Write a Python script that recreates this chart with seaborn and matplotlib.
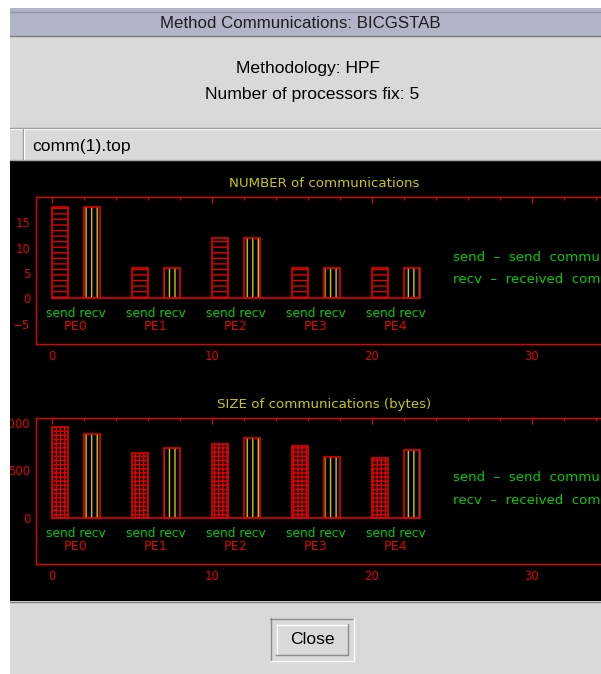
import numpy as np
import pandas as pd
import matplotlib
matplotlib.use("Agg")
import matplotlib.pyplot as plt
from matplotlib.patches import Rectangle
from matplotlib.lines import Line2D
from matplotlib.ticker import MultipleLocator
import seaborn as sns

# ---------------- data ----------------
window_title = "Method Communications: BICGSTAB"
methodology = "Methodology: HPF"
nproc_text = "Number of processors fix: 5"
tab_label = "comm(1).top"
close_label = "Close"
pe_labels = ["PE0", "PE1", "PE2", "PE3", "PE4"]
send_pos = [0.5, 5.5, 10.5, 15.5, 20.5]
recv_pos = [2.5, 7.5, 12.5, 17.5, 22.5]
num_send = [18, 6, 12, 6, 6]
num_recv = [18, 6, 12, 6, 6]
size_send = [958, 686, 774, 756, 631]
size_recv = [879, 732, 843, 641, 714]
xticks = [0, 10, 20, 30]
num_yticks = [-5, 0, 5, 10, 15]
size_yticks = [0, 500, 1000]
titles = ["NUMBER of communications", "SIZE of communications (bytes)"]
legend_lines = ["send  \u2013  send  communications",
                "recv  \u2013  received  communications"]
bar_label = "send recv"

# ---------------- style ----------------
sns.set_style("dark")
plt.rcParams["font.family"] = ["DejaVu Sans"]
plt.rcParams["hatch.linewidth"] = 1.0
plt.rcParams["axes.grid"] = False

RED = "#e00000"
GREEN = "#00cc00"
YEL = "#c8c800"
GUI = "Liberation Sans"

W, H = 601, 674
fig = plt.figure(figsize=(W / 100, H / 100), dpi=100)
fig.patch.set_facecolor("white")


def rect(x0, y0, x1, y1, color, z=-5):
    r = Rectangle((x0 / W, 1 - y1 / H), (x1 - x0) / W, (y1 - y0) / H,
                  transform=fig.transFigure, facecolor=color,
                  edgecolor="none", zorder=z)
    fig.add_artist(r)


def hline(x0, x1, y, color, lw=1.0, z=-4):
    fig.add_artist(Line2D([x0 / W, x1 / W], [1 - y / H, 1 - y / H],
                          transform=fig.transFigure, color=color, lw=lw,
                          zorder=z))


def vline(x, y0, y1, color, lw=1.0, z=-4):
    fig.add_artist(Line2D([x / W, x / W], [1 - y0 / H, 1 - y1 / H],
                          transform=fig.transFigure, color=color, lw=lw,
                          zorder=z))


def ftext(x, y, s, **kw):
    fig.text(x / W, 1 - y / H, s, **kw)


# window chrome
rect(10, 8, 601, 674, "#d9d9d9")
rect(10, 8, 601, 36, "#b1b5c7")
hline(10, 601, 12, "#8e92a4")
hline(10, 601, 36, "#7c7c80")
ftext(300, 24, window_title, ha="center", va="center", fontsize=12.2,
      family=GUI, color="#1e1e1e")
ftext(308, 69, methodology, ha="center", va="center", fontsize=12.6,
      family=GUI, color="#000000")
ftext(312, 95, nproc_text, ha="center", va="center", fontsize=12.6,
      family=GUI, color="#000000")
# tab strip
rect(10, 127, 601, 161, "#dadada")
hline(10, 601, 127.5, "#8a8a8a")
hline(10, 601, 128.8, "#f4f4f4")
vline(22.5, 129, 160, "#8a8a8a")
vline(23.8, 129, 160, "#ffffff")
hline(10, 601, 160, "#a8a8a8")
ftext(32, 147, tab_label, ha="left", va="center", fontsize=12.6,
      family=GUI, color="#000000")
# black drawing area
rect(10, 161, 601, 601, "#000000")
hline(10, 601, 601.5, "#7f7f7f")
# close button
rect(270, 618, 354, 661, "#d9d9d9")
hline(270, 354, 618.5, "#8c8c8c")
vline(270.5, 618, 661, "#8c8c8c")
hline(270, 354, 660.5, "#ffffff")
vline(353.5, 618, 661, "#ffffff")
hline(276, 348, 624.5, "#ffffff")
vline(276.5, 624, 655, "#ffffff")
hline(276, 348, 654.5, "#8a8a8a")
vline(347.5, 624, 655, "#8a8a8a")
ftext(312, 639.5, close_label, ha="center", va="center", fontsize=12.6,
      family=GUI, color="#000000")

# white screen margin covering anything clipped by the window
rect(0, 0, 10, H, "white", z=20)
rect(0, 0, W, 8, "white", z=20)


def panel(ax, send, recv, ylim, yticks, yminor, hatch_send, title):
    ax.set_facecolor("black")
    df_s = pd.DataFrame({"pos": send_pos, "val": send})
    df_r = pd.DataFrame({"pos": recv_pos, "val": recv})
    sns.barplot(data=df_s, x="pos", y="val", native_scale=True, width=0.2,
                orient="x", errorbar=None, color=RED, ax=ax)
    n0 = len(ax.patches)
    for p in ax.patches[:n0]:
        p.set_facecolor("none")
        p.set_edgecolor(RED)
        p.set_hatch(hatch_send)
        p.set_linewidth(1.2)
        p.set_zorder(2)
    sns.barplot(data=df_r, x="pos", y="val", native_scale=True, width=0.2,
                orient="x", errorbar=None, color=YEL, ax=ax)
    n1 = len(ax.patches)
    for p in ax.patches[n0:n1]:
        p.set_facecolor("none")
        p.set_edgecolor(YEL)
        p.set_hatch("|||")
        p.set_linewidth(0)
        p.set_zorder(2)
    sns.barplot(data=df_r, x="pos", y="val", native_scale=True, width=0.2,
                orient="x", errorbar=None, color=RED, ax=ax)
    for p in ax.patches[n1:]:
        p.set_facecolor("none")
        p.set_edgecolor(RED)
        p.set_linewidth(1.2)
        p.set_zorder(3)
    ax.plot([send_pos[0] - 0.5, recv_pos[-1] + 0.5], [0, 0], color=RED,
            lw=1.2, zorder=3)

    for i, pe in enumerate(pe_labels):
        xc = (send_pos[i] + recv_pos[i]) / 2
        ax.annotate(bar_label, xy=(xc, 0), xytext=(0, -10.6),
                    textcoords="offset points", ha="center", va="center",
                    color=GREEN, fontsize=8.8)
        ax.annotate(pe, xy=(xc, 0), xytext=(0, -20.4),
                    textcoords="offset points", ha="center", va="center",
                    color=RED, fontsize=9.2)
    for line, yf in zip(legend_lines, [0.59, 0.437]):
        ax.text(0.724, yf, line, transform=ax.transAxes, ha="left",
                va="center", color=GREEN, fontsize=9.6)

    ax.set_xlim(-1, 35)
    ax.set_ylim(*ylim)
    ax.set_xticks(xticks)
    ax.set_xticklabels([str(t) for t in xticks])
    ax.xaxis.set_minor_locator(MultipleLocator(2))
    ax.set_yticks(yticks)
    ax.set_yticklabels([str(t).replace("-", "\u2212") for t in yticks])
    ax.yaxis.set_minor_locator(MultipleLocator(yminor))
    ax.set_xlabel("")
    ax.set_ylabel("")
    ax.grid(False)
    ax.tick_params(which="both", direction="in", top=True, right=True,
                   colors=RED, labelcolor=RED, labelsize=8.5, width=0.8)
    ax.tick_params(which="major", length=4.4, pad=4)
    ax.tick_params(which="minor", length=2.3)
    for s in ax.spines.values():
        s.set_visible(True)
        s.set_color(RED)
        s.set_linewidth(1.0)
    ax.set_title(title, color=YEL, fontsize=9.6, pad=7.2)


left = 36 / W
width = 576 / W
ax1 = fig.add_axes([left, 1 - 344 / H, width, 147 / H])
ax2 = fig.add_axes([left, 1 - 564.3 / H, width, 146.6 / H])
panel(ax1, num_send, num_recv, (-9, 20), num_yticks, 1, "---", titles[0])
panel(ax2, size_send, size_recv, (-481, 1052), size_yticks, 100, "++++",
      titles[1])

fig.savefig("out.png", dpi=100, facecolor=fig.get_facecolor())
